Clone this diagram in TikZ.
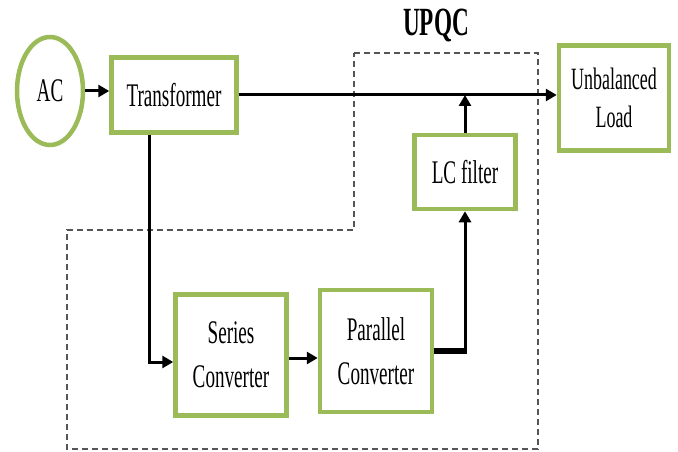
\documentclass[tikz,border=0pt]{standalone}
\usepackage{fontspec}
\setmainfont[FakeStretch=0.58]{Liberation Serif}
\usetikzlibrary{arrows.meta}
\usetikzlibrary{shapes.geometric}
\definecolor{boxgreen}{RGB}{155,187,89}
\definecolor{dashgray}{RGB}{85,85,85}

\begin{document}
\begin{tikzpicture}[x=1pt,y=-1pt,
    block/.style={draw=boxgreen,line width=4.5pt,fill=white,inner sep=0pt,
        align=center,font=\fontsize{33}{44}\selectfont},
    flow/.style={-{Triangle[length=11pt,width=12pt]},line width=3pt},
    upqc border/.style={draw=dashgray,line width=2pt,dash pattern=on 6pt off 4pt}]
    \useasboundingbox (0,0) rectangle (678,452);

    % UPQC region
    \draw[upqc border] (354,53) -- (538,53) -- (538,449) -- (67,449)
        -- (67,230) -- (354,230) -- cycle;
    \node[font=\fontsize{40}{44}\selectfont\bfseries,anchor=base] (UPQC) at (436,36) {UPQC};

    \node[block,ellipse,minimum width=66,minimum height=108] (AC) at (50,91) {AC};
    \node[block,minimum width=125,minimum height=75] (Transformer) at (174,95) {Transformer};
    \node[block,minimum width=110,minimum height=105,font=\fontsize{31}{38}\selectfont] (Load) at (614,98) {Unbalanced\\Load};
    \node[block,minimum width=101,minimum height=74] (LC) at (465,172) {LC filter};
    \node[block,minimum width=111,minimum height=121] (Series) at (231,355) {Series\\Converter};
    \node[block,minimum width=112,minimum height=122] (Parallel) at (376,351) {Parallel\\Converter};

    \draw[flow] (AC.east) -- (Transformer.west |- AC.east);
    \draw[flow] (Transformer.east) -- (Load.west |- Transformer.east);
    \draw[flow] ([xshift=-25pt]Transformer.south) |- ([yshift=-7pt]Series.west);
    \draw[flow] ([yshift=-3pt]Series.east) -- ([yshift=-3pt]Series.east -| Parallel.west);
    \coordinate (bend) at (Parallel.east -| LC.south);
    \draw[line width=6pt] (Parallel.east) -- ([xshift=1.5pt]bend);
    \draw[flow] (bend) -- (LC.south);
    \draw[flow] (LC.north) -- (LC.north |- Transformer.east);
\end{tikzpicture}
\end{document}
